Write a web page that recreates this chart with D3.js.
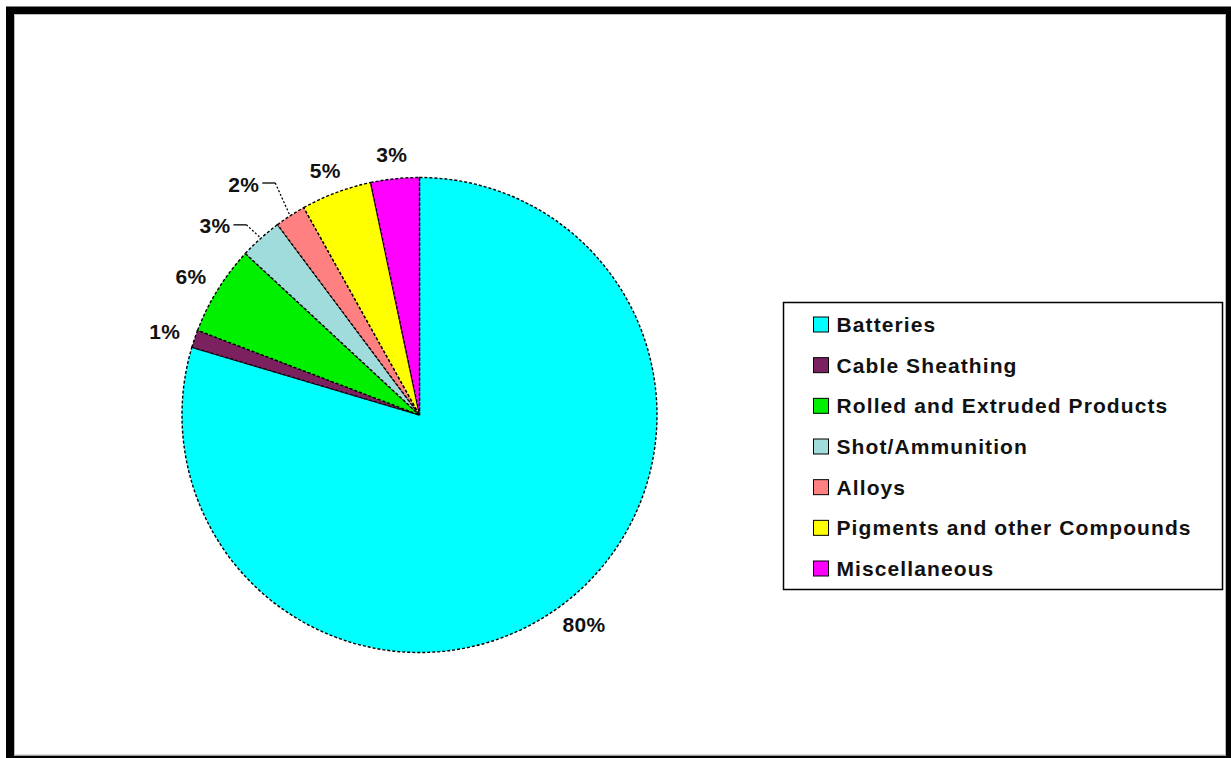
<!DOCTYPE html>
<html>
<head>
<meta charset="utf-8">
<script src="https://cdn.jsdelivr.net/npm/d3@7"></script>
<style>
  html, body { margin: 0; padding: 0; background: #fff; }
  svg { display: block; }
  text { font-family: "Liberation Sans", Arial, sans-serif; fill: #111; }
</style>
</head>
<body>
<svg id="chart" width="1231" height="758"></svg>
<script>
// Lead end uses (share of total, %)
const categories = ["Batteries", "Cable Sheathing", "Rolled and Extruded Products",
  "Shot/Ammunition", "Alloys", "Pigments and other Compounds", "Miscellaneous"];
const values = [79.6, 1.2, 6.1, 2.9, 2.1, 4.8, 3.3];
const labels = ["80%", "1%", "6%", "3%", "2%", "5%", "3%"];
const colors = ["#00ffff", "#7b2160", "#00f000", "#a0dcdc", "#ff8080", "#ffff00", "#ff00ff"];

const width = 1231, height = 758;
const cx = 419.5, cy = 415, radius = 237.5;

const svg = d3.select("#chart");

// outer frame
svg.append("rect")
  .attr("x", 10).attr("y", 10.5)
  .attr("width", 1220).attr("height", 749)
  .attr("fill", "#fff")
  .attr("stroke", "#000").attr("stroke-width", 8);
svg.append("rect")
  .attr("x", 14.5).attr("y", 14.5)
  .attr("width", 1211).attr("height", 740.5)
  .attr("fill", "none")
  .attr("stroke", "#bbb").attr("stroke-width", 1);

const color = d3.scaleOrdinal().domain(categories).range(colors);

const pie = d3.pie().sort(null).value((d) => d.value);
const arcs = pie(categories.map((c, i) => ({ cat: c, value: values[i], label: labels[i] })));

const arc = d3.arc().innerRadius(0).outerRadius(radius);

const g = svg.append("g").attr("transform", `translate(${cx},${cy})`);

// slices
g.selectAll("path.slice")
  .data(arcs)
  .enter()
  .append("path")
  .attr("class", "slice")
  .attr("d", arc)
  .attr("fill", (d) => color(d.data.cat))
  .attr("stroke", "#000")
  .attr("stroke-width", 1.4)
  .attr("stroke-dasharray", "3,2");

// labels (two small slices have their labels dragged out with leader lines)
const leaders = { "Shot/Ammunition": [-13, -12], "Alloys": [-14, -31] };
const mid = (d) => (d.startAngle + d.endAngle) / 2;
const pt = (a, r) => [Math.sin(a) * r, -Math.cos(a) * r];

arcs.forEach((d) => {
  const a = mid(d);
  const t = g.append("text")
    .style("font-size", "21px")
    .style("font-weight", "bold")
    .style("letter-spacing", "0.3px")
    .attr("dominant-baseline", "central")
    .text(d.data.label);
  const hw = t.node().getComputedTextLength() / 2;
  const hh = 8;

  const off = leaders[d.data.cat];
  if (off) {
    const s = pt(a, radius + 2);
    const e = [s[0] + off[0], s[1] + off[1]];
    g.append("line")
      .attr("x1", s[0]).attr("y1", s[1]).attr("x2", e[0]).attr("y2", e[1])
      .attr("stroke", "#000").attr("stroke-width", 1.3)
      .attr("stroke-dasharray", "2,2");
    g.append("line")
      .attr("x1", e[0]).attr("y1", e[1]).attr("x2", e[0] - 13).attr("y2", e[1])
      .attr("stroke", "#000").attr("stroke-width", 1.3);
    t.attr("text-anchor", "end")
      .attr("x", e[0] - 16)
      .attr("y", e[1] + 1);
  } else {
    const p = pt(a, radius + 16);
    t.attr("text-anchor", "middle")
      .attr("x", p[0] + Math.sin(a) * hw)
      .attr("y", p[1] - Math.cos(a) * hh);
  }
});

// legend
const legend = svg.append("g").attr("transform", "translate(783.5,302.5)");
legend.append("rect")
  .attr("width", 439).attr("height", 287)
  .attr("fill", "#fff")
  .attr("stroke", "#000").attr("stroke-width", 1.5);

const rowY = d3.scalePoint().domain(categories).range([22, 266]);

const items = legend.selectAll("g.item")
  .data(categories)
  .enter()
  .append("g")
  .attr("class", "item")
  .attr("transform", (d) => `translate(0,${rowY(d)})`);

items.append("rect")
  .attr("x", 30).attr("y", -7.5)
  .attr("width", 15).attr("height", 15)
  .attr("fill", (d) => color(d))
  .attr("stroke", "#000").attr("stroke-width", 1);

items.append("text")
  .attr("x", 53).attr("y", 0)
  .attr("dominant-baseline", "central")
  .style("font-size", "21px")
  .style("font-weight", "bold")
  .style("letter-spacing", "1.1px")
  .text((d) => d);
</script>
</body>
</html>
